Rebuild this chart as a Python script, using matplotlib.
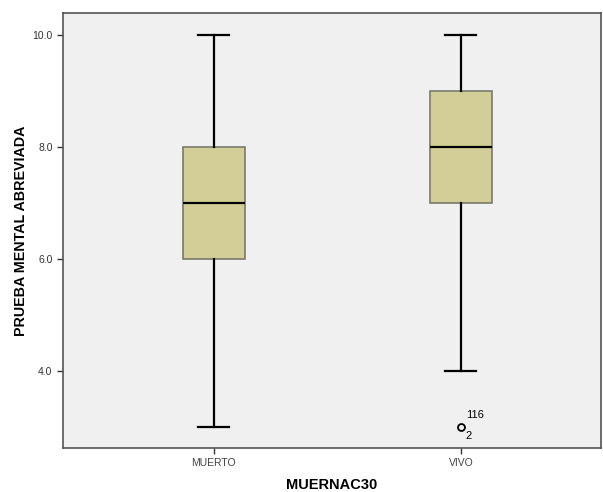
import matplotlib
matplotlib.use("Agg")
import matplotlib.pyplot as plt

plt.rcParams['font.family'] = ['Liberation Sans', 'DejaVu Sans']

groups = ["MUERTO", "VIVO"]
# five-number summaries: whislo, q1, med, q3, whishi
whislo = [3.0, 4.0]
q1 = [6.0, 7.0]
med = [7.0, 8.0]
q3 = [8.0, 9.0]
whishi = [10.0, 10.0]
fliers = [[], [3.0]]
flier_labels = ["116", "2"]

stats = []
for i, g in enumerate(groups):
    stats.append({"label": g, "whislo": whislo[i], "q1": q1[i], "med": med[i],
                  "q3": q3[i], "whishi": whishi[i], "fliers": fliers[i]})

fig = plt.figure(figsize=(6.03, 4.92), dpi=100)
ax = fig.add_axes([0.1045, 0.0894, 0.892, 0.8842])
ax.set_facecolor("#f0f0f0")

ax.bxp(stats, positions=[1, 2], widths=0.25, patch_artist=True,
       showcaps=True,
       boxprops=dict(facecolor="#d3ce98", edgecolor="#7a7a6a", linewidth=1.2),
       medianprops=dict(color="black", linewidth=1.6),
       whiskerprops=dict(color="black", linewidth=1.6),
       capprops=dict(color="black", linewidth=1.6),
       flierprops=dict(marker="o", markersize=5, markerfacecolor="none",
                       markeredgecolor="black", markeredgewidth=1.3))

# outlier case labels
ax.text(2.02, fliers[1][0] + 0.12, flier_labels[0], fontsize=8, ha="left", va="bottom")
ax.text(2.02, fliers[1][0] - 0.07, flier_labels[1], fontsize=8, ha="left", va="top")

ax.set_xlim(0.389, 2.567)
ax.set_ylim(2.625, 10.39)
ax.set_yticks([4, 6, 8, 10])
ax.set_yticklabels(["4.0", "6.0", "8.0", "10.0"])
ax.set_xticks([1, 2])
ax.set_xticklabels(groups)
ax.tick_params(axis="both", labelsize=7.5, colors="#333333", length=4, width=1)
ax.tick_params(axis="x", labelcolor="#444444")

for s in ax.spines.values():
    s.set_color("#555555")
    s.set_linewidth(1.2)

ax.set_xlabel("MUERNAC30", fontsize=10.5, fontweight="bold", labelpad=7)
ax.set_ylabel("PRUEBA MENTAL ABREVIADA", fontsize=10.3, fontweight="bold", labelpad=3)

fig.savefig("out.png", dpi=100)
